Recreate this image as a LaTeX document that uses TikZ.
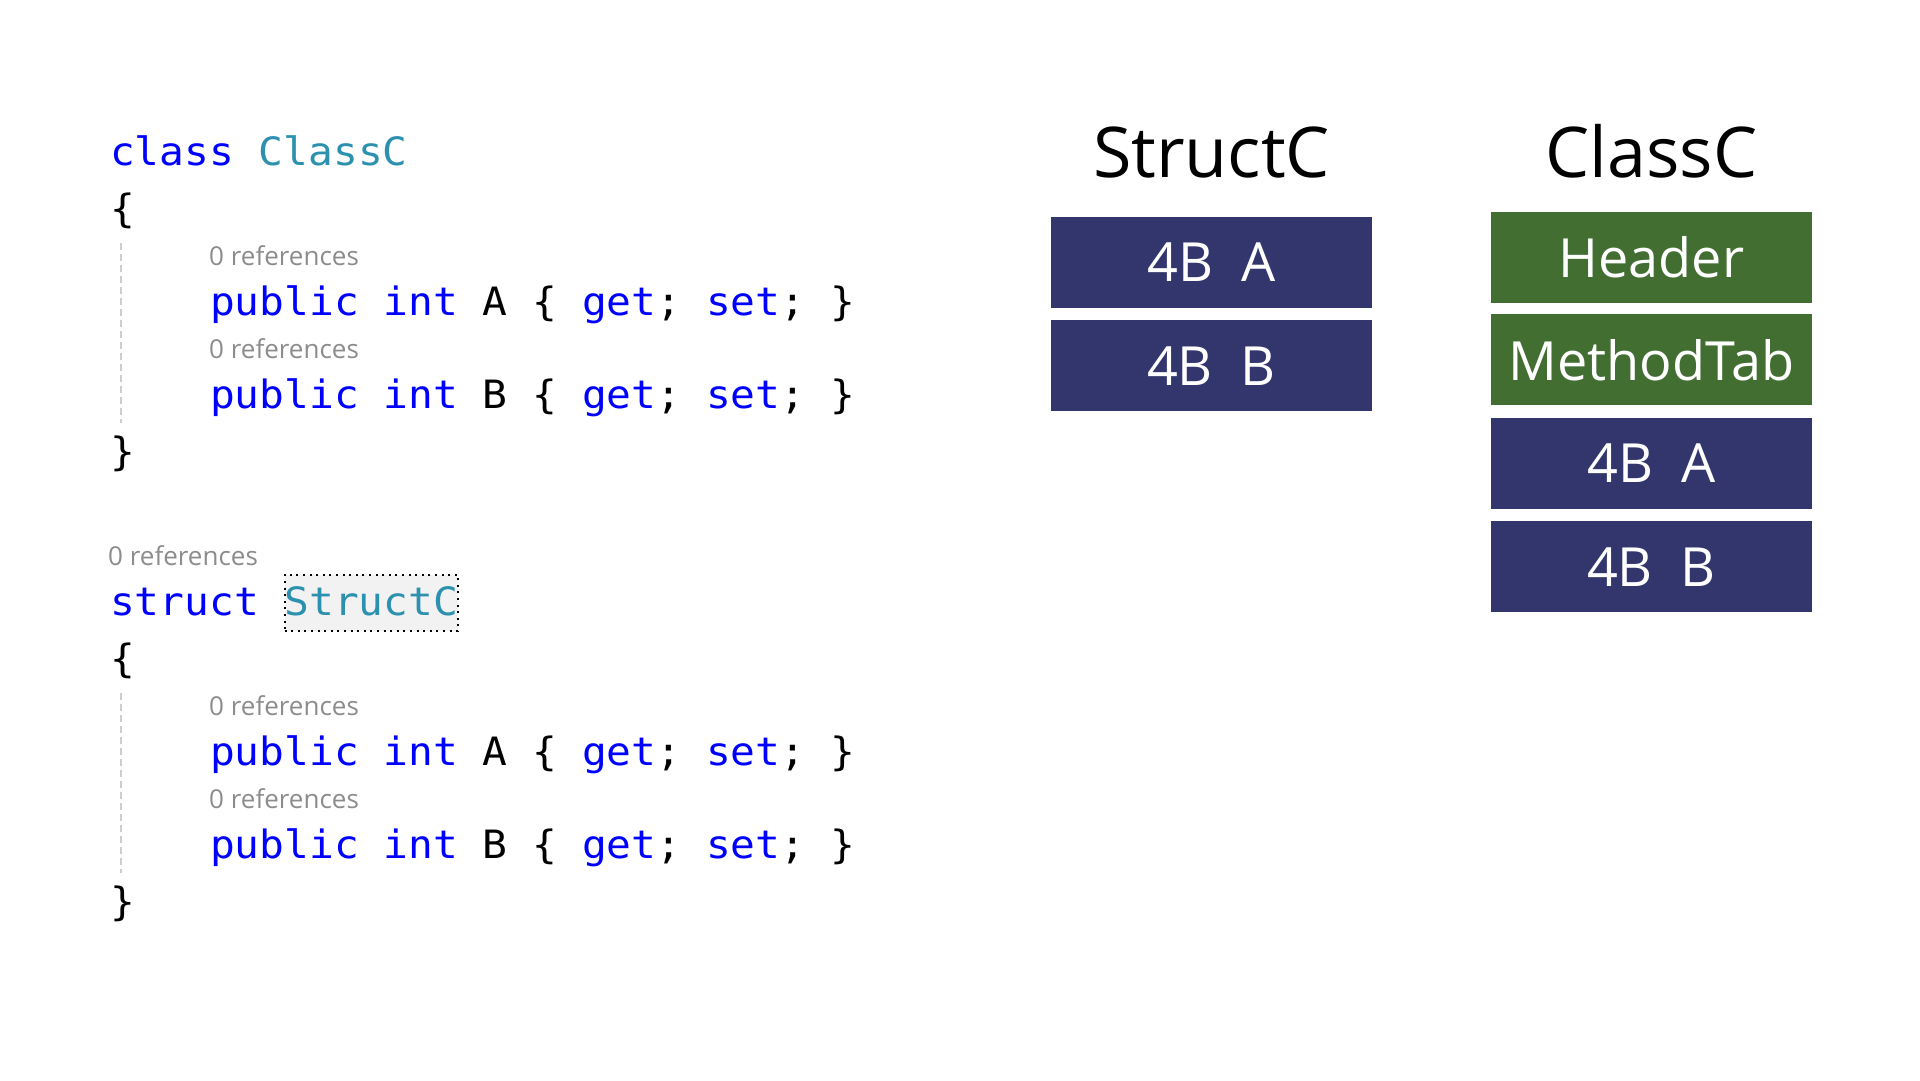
\documentclass[tikz,border=0pt]{standalone}
\usepackage{fontspec}
\setmainfont{Open Sans}
\setmonofont{DejaVu Sans Mono}
\usepackage{xcolor}
\usetikzlibrary{positioning}
\definecolor{kwblue}{RGB}{0,0,255}
\definecolor{typeteal}{RGB}{43,145,175}
\definecolor{refgray}{RGB}{140,140,140}
\definecolor{guidegray}{RGB}{205,205,205}
\definecolor{fieldnavy}{RGB}{50,54,109}
\definecolor{headgreen}{RGB}{67,110,50}
\definecolor{hlgray}{RGB}{242,242,242}
\newcommand{\kw}[1]{\textcolor{kwblue}{#1}}
\newcommand{\ty}[1]{\textcolor{typeteal}{#1}}
\newcommand{\cd}[1]{\scalebox{1.056}[1]{#1}}

\begin{document}
\begin{tikzpicture}[x=1pt, y=-1pt,
            codeline/.style = {anchor = base west, inner sep = 0pt, font = \ttfamily\fontsize{39}{47}\selectfont},
            refnote/.style = {anchor = base west, inner sep = 0pt, text = refgray, font = \fontsize{26}{31}\selectfont},
            hilite/.style = {codeline, fill = hlgray, draw = black, line width = 2pt, dash pattern = on 2pt off 4.6pt, text height = 40pt, text depth = 16pt},
            indentguide/.style = {draw = guidegray, line width = 1.3pt, dash pattern = on 7pt off 4pt},
            heading/.style = {anchor = base, inner sep = 0pt, font = \fontsize{70}{84}\selectfont},
            slot/.style = {fill = fieldnavy, text = white, minimum width = 321pt, minimum height = 91pt, inner sep = 0pt, font = \fontsize{54}{64}\selectfont},
            hdrslot/.style = {slot, fill = headgreen}]
        \useasboundingbox (0,0) rectangle (1920,1080);

        \node[codeline] (cls) at (110,165) {\cd{\kw{class} \ty{ClassC}}};
        \node[codeline] (clsopen) at (110,222) {\cd{\{}};
        \node[refnote] (clsrefa) at (209,265) {0 references};
        \node[codeline] (clspropa) at (210,315) {\cd{\kw{public} \kw{int} A \{ \kw{get}; \kw{set}; \}}};
        \node[refnote] (clsrefb) at (209,358) {0 references};
        \node[codeline] (clspropb) at (210,408) {\cd{\kw{public} \kw{int} B \{ \kw{get}; \kw{set}; \}}};
        \node[codeline] (clsclose) at (110,465) {\cd{\}}};
        \coordinate (clsguidetop) at (121,243);
        \coordinate (clsguidebot) at (121,423);
        \draw[indentguide] (clsguidetop) -- (clsguidebot);

        \node[refnote] (strref) at (108,565) {0 references};
        \node[codeline] (str) at (110,615) {\cd{\kw{struct}}};
        \node[hilite] (strname) at (283.6,615) {\cd{\ty{StructC}}};
        \node[codeline] (stropen) at (110,672) {\cd{\{}};
        \node[refnote] (strrefa) at (209,715) {0 references};
        \node[codeline] (strpropa) at (210,765) {\cd{\kw{public} \kw{int} A \{ \kw{get}; \kw{set}; \}}};
        \node[refnote] (strrefb) at (209,808) {0 references};
        \node[codeline] (strpropb) at (210,858) {\cd{\kw{public} \kw{int} B \{ \kw{get}; \kw{set}; \}}};
        \node[codeline] (strclose) at (110,915) {\cd{\}}};
        \coordinate (strguidetop) at (121,693);
        \coordinate (strguidebot) at (121,873);
        \draw[indentguide] (strguidetop) -- (strguidebot);

        \node[heading] (structtitle) at (1211.5,177) {StructC};
        \node[slot] (sfielda) at (1211.5,262.5) {4B\ \ A};
        \node[slot, below = 12pt of sfielda] (sfieldb) {4B\ \ B};

        \node[heading] (classtitle) at (1651.5,177) {ClassC};
        \node[hdrslot] (cheader) at (1651.5,257.5) {Header};
        \node[hdrslot, below = 11pt of cheader] (cmtab) {MethodTab};
        \node[slot, below = 12pt of cmtab] (cfielda) {4B\ \ A};
        \node[slot, below = 12pt of cfielda] (cfieldb) {4B\ \ B};
\end{tikzpicture}
\end{document}
